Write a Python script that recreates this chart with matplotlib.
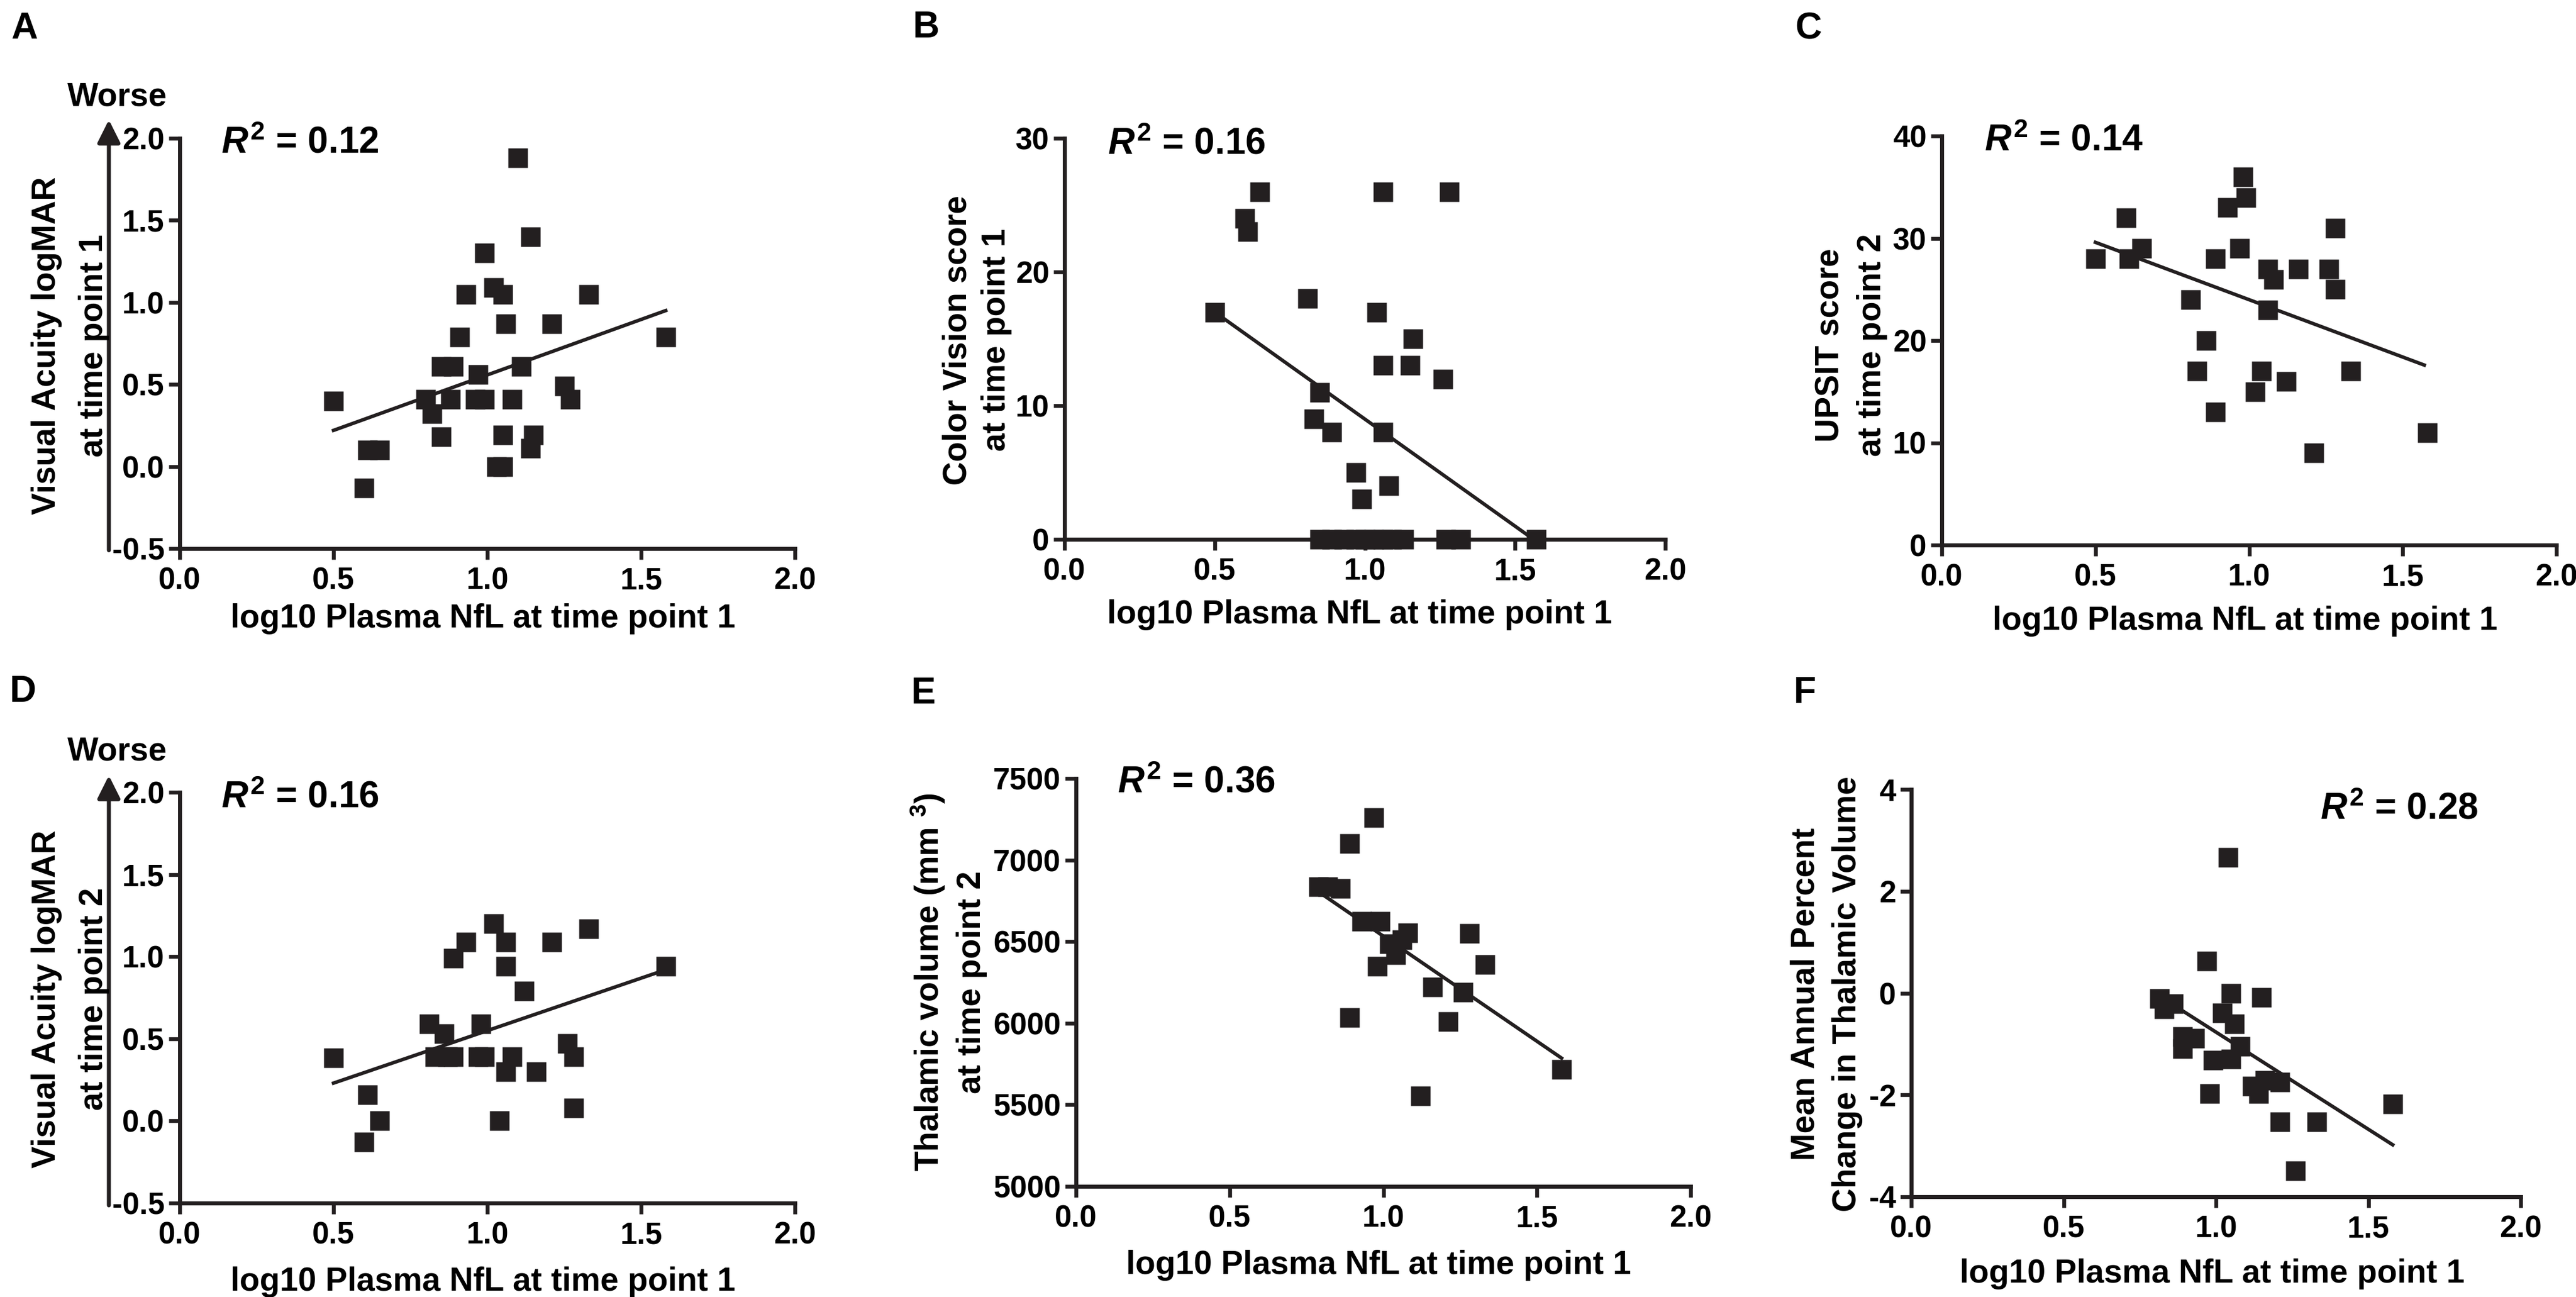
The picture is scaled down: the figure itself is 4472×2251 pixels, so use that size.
import matplotlib
matplotlib.use("Agg")
import matplotlib.pyplot as plt
from matplotlib.ticker import FormatStrFormatter

plt.rcParams['font.family'] = ['Liberation Sans', 'DejaVu Sans']
plt.rcParams['font.weight'] = 'bold'
plt.rcParams['mathtext.fontset'] = 'custom'
plt.rcParams['mathtext.it'] = 'Liberation Sans:italic:bold'
plt.rcParams['mathtext.rm'] = 'Liberation Sans:bold'
plt.rcParams['mathtext.bf'] = 'Liberation Sans:bold'

W, H = 4472, 2251
DPI = 200

# ---- data ----
# A: visual acuity at time point 1
nfl_a = [0.50, 0.60, 0.61, 0.65, 0.80, 0.82, 0.85, 0.85, 0.89, 0.88, 0.91, 0.93, 0.96,
         0.97, 0.99, 0.99, 1.02, 1.03, 1.05, 1.05, 1.06, 1.05, 1.08, 1.10, 1.11, 1.14,
         1.15, 1.14, 1.21, 1.25, 1.27, 1.33, 1.58]
va_tp1 = [0.40, -0.13, 0.10, 0.10, 0.41, 0.32, 0.18, 0.61, 0.61, 0.41, 0.79, 1.05, 0.41,
          0.56, 0.41, 1.30, 1.09, 0.00, 0.00, 1.05, 0.87, 0.19, 0.41, 1.88, 0.61, 1.40,
          0.19, 0.11, 0.87, 0.49, 0.41, 1.05, 0.79]
fit_a_x = [0.50, 1.58]
fit_a_y = [0.22, 0.95]

# B: color vision score at time point 1
nfl_b = [0.50, 0.60, 0.61, 0.65, 0.81, 0.85, 0.83, 0.89, 0.97, 0.99, 1.04, 1.06, 1.06,
         1.06, 1.08, 1.15, 1.16, 1.26, 1.28,
         0.85, 0.89, 0.93, 0.97, 1.00, 1.03, 1.06, 1.09, 1.13, 1.27, 1.32, 1.57]
color_tp1 = [17, 24, 23, 26, 18, 11, 9, 8, 5, 3, 17, 26, 13, 8, 4, 13, 15, 12, 26,
             0, 0, 0, 0, 0, 0, 0, 0, 0, 0, 0, 0]
fit_b_x = [0.50, 1.58]
fit_b_y = [17.0, -0.3]

# C: UPSIT score at time point 2
nfl_c = [0.50, 0.60, 0.61, 0.65, 0.81, 0.83, 0.86, 0.89, 0.89, 0.93, 0.97, 0.98, 0.99,
         1.02, 1.04, 1.06, 1.06, 1.08, 1.12, 1.16, 1.21, 1.26, 1.28, 1.28, 1.33, 1.58]
upsit_tp2 = [28, 32, 28, 29, 24, 17, 20, 28, 13, 33, 29, 36, 34, 15, 17, 23, 27, 26, 16,
             27, 9, 27, 31, 25, 17, 11]
fit_c_x = [0.50, 1.57]
fit_c_y = [29.6, 17.6]

# D: visual acuity at time point 2
nfl_d = [0.50, 0.60, 0.61, 0.65, 0.81, 0.83, 0.86, 0.87, 0.89, 0.89, 0.93, 0.97, 0.98,
         0.99, 1.02, 1.04, 1.06, 1.06, 1.06, 1.08, 1.12, 1.16, 1.21, 1.26, 1.28, 1.28,
         1.33, 1.58]
va_tp2 = [0.385, -0.13, 0.16, 0.00, 0.59, 0.39, 0.53, 0.39, 0.39, 0.99, 1.09, 0.39, 0.59,
          0.39, 1.20, 0.00, 1.09, 0.94, 0.30, 0.39, 0.79, 0.30, 1.09, 0.47, 0.39, 0.08,
          1.17, 0.94]
fit_d_x = [0.50, 1.58]
fit_d_y = [0.23, 0.92]

# E: thalamic volume at time point 2
nfl_e = [0.79, 0.82, 0.86, 0.89, 0.89, 0.93, 0.97, 0.99, 0.98, 1.02, 1.04, 1.06, 1.08,
         1.12, 1.16, 1.21, 1.26, 1.28, 1.33, 1.58]
thal_tp2 = [6835, 6835, 6825, 7100, 6036, 6625, 7260, 6625, 6350, 6485, 6420, 6510, 6555,
            5555, 6220, 6010, 6190, 6550, 6360, 5717]
fit_e_x = [0.79, 1.58]
fit_e_y = [6804, 5786]

# F: mean annual percent change in thalamic volume
nfl_f = [0.815, 0.83, 0.86, 0.89, 0.89, 0.93, 0.97, 0.98, 0.99, 1.02, 1.04, 1.05, 1.05,
         1.06, 1.08, 1.15, 1.12, 1.14, 1.16, 1.21, 1.21, 1.26, 1.33, 1.58]
thal_change = [-0.11, -0.31, -0.21, -0.85, -1.09, -0.89, 0.63, -1.98, -1.32, -0.39, 2.66,
               0.00, -1.30, -0.60, -1.05, -0.09, -1.83, -1.98, -1.71, -1.75, -2.53, -3.49,
               -2.53, -2.18]
fit_f_x = [0.82, 1.58]
fit_f_y = [-0.08, -2.98]

x_ticks = [0.0, 0.5, 1.0, 1.5, 2.0]
xlab = "log10 Plasma NfL at time point 1"

fig = plt.figure(figsize=(W / DPI, H / DPI), dpi=DPI)


def fx(px):
    return px / W


def fy(py):
    return 1 - py / H


def make_ax(l, t, r, b, x, y, fx_, fy_, ylim, yticks, yfmt):
    ax = fig.add_axes([fx(l), fy(b), fx(r - l), (b - t) / H])
    ax.plot(x, y, 's', color='#231f20', ms=12.5, mec='none', clip_on=False, zorder=5)
    ax.plot(fx_, fy_, '-', color='#231f20', lw=2.2, zorder=4)
    ax.set_xlim(0, 2)
    ax.set_ylim(*ylim)
    ax.set_xticks(x_ticks)
    ax.set_yticks(yticks)
    ax.xaxis.set_major_formatter(FormatStrFormatter('%.1f'))
    ax.yaxis.set_major_formatter(FormatStrFormatter(yfmt))
    for s in ['top', 'right']:
        ax.spines[s].set_visible(False)
    for s in ['left', 'bottom']:
        ax.spines[s].set_linewidth(2.5)
        ax.spines[s].set_color('#231f20')
    ax.tick_params(axis='both', direction='out', length=7, width=2.4,
                   labelsize=19, color='#231f20')
    ax.tick_params(axis='x', pad=4.5)
    ax.tick_params(axis='y', pad=2.5)
    for lb in ax.get_xticklabels() + ax.get_yticklabels():
        lb.set_fontweight('bold')
    ax.patch.set_visible(False)
    return ax


def ylabels(x1, x2, yc, l1, l2):
    for xx, s in [(x1, l1), (x2, l2)]:
        fig.text(fx(xx), fy(yc), s, rotation=90, rotation_mode='anchor',
                 ha='center', va='baseline', fontsize=20.5, fontweight='bold')


def put(px, py, s, size, **kw):
    fig.text(fx(px), fy(py), s, fontsize=size, fontweight='bold', va='baseline', **kw)


def worse_arrow(x, top, bottom, text_base):
    fig.add_artist(matplotlib.patches.FancyArrowPatch(
        (fx(x), fy(bottom)), (fx(x), fy(top)), transform=fig.transFigure,
        arrowstyle='-|>', mutation_scale=30, lw=2.5, color='#231f20',
        shrinkA=0, shrinkB=0))
    put(204, text_base, "Worse", 20.5, ha='center')


# A
make_ax(312, 240, 1380, 952, nfl_a, va_tp1, fit_a_x, fit_a_y, (-0.5, 2.0),
        [-0.5, 0.0, 0.5, 1.0, 1.5, 2.0], '%.1f')
ylabels(96, 178, 600, "Visual Acuity logMAR", "at time point 1")
put(838, 1089, xlab, 20.5, ha='center')
put(384, 266, r"$R^{2}$ = 0.12", 23)
put(19, 67, "A", 23)
worse_arrow(189, 208, 955, 183)

# B
make_ax(1848, 240, 2891, 936, nfl_b, color_tp1, fit_b_x, fit_b_y, (0, 30),
        [0, 10, 20, 30], '%d')
ylabels(1678, 1745, 590, "Color Vision score", "at time point 1")
put(2360, 1082, xlab, 20.5, ha='center')
put(1923, 268, r"$R^{2}$ = 0.16", 23)
put(1585, 65, "B", 23)

# C
make_ax(3371, 236, 4438, 946, nfl_c, upsit_tp2, fit_c_x, fit_c_y, (0, 40),
        [0, 10, 20, 30, 40], '%d')
ylabels(3193, 3265, 599, "UPSIT score", "at time point 2")
put(3897, 1093, xlab, 20.5, ha='center')
put(3445, 262, r"$R^{2}$ = 0.14", 23)
put(3116, 67, "C", 23)

# D
make_ax(312, 1375, 1380, 2088, nfl_d, va_tp2, fit_d_x, fit_d_y, (-0.5, 2.0),
        [-0.5, 0.0, 0.5, 1.0, 1.5, 2.0], '%.1f')
ylabels(96, 178, 1734, "Visual Acuity logMAR", "at time point 2")
put(838, 2240, xlab, 20.5, ha='center')
put(384, 1401, r"$R^{2}$ = 0.16", 23)
put(17, 1218, "D", 23)
worse_arrow(189, 1346, 2092, 1319)

# E
make_ax(1868, 1351, 2935, 2059, nfl_e, thal_tp2, fit_e_x, fit_e_y, (5000, 7500),
        [5000, 5500, 6000, 6500, 7000, 7500], '%d')
ylabels(1630, 1702, 1705, "Thalamic volume (mm $^{3}$)", "at time point 2")
put(2393, 2211, xlab, 20.5, ha='center')
put(1940, 1375, r"$R^{2}$ = 0.36", 23)
put(1582, 1221, "E", 23)

# F
make_ax(3318, 1370, 4376, 2077, nfl_f, thal_change, fit_f_x, fit_f_y, (-4, 4),
        [-4, -2, 0, 2, 4], '%d')
ylabels(3150, 3222, 1725, "Mean Annual Percent", "Change in Thalamic Volume")
put(3840, 2226, xlab, 20.5, ha='center')
put(4028, 1421, r"$R^{2}$ = 0.28", 23)
put(3114, 1220, "F", 23)

fig.savefig("out.png", dpi=DPI)
